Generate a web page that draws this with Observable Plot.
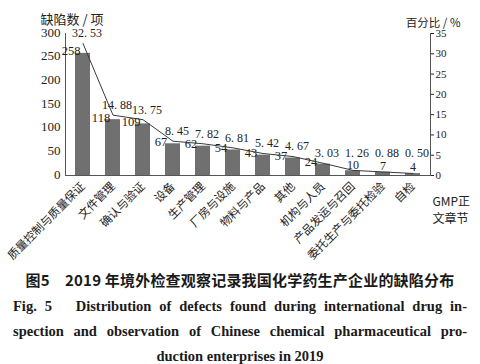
<!DOCTYPE html>
<html><head><meta charset="utf-8">
<script src="https://cdn.jsdelivr.net/npm/d3@7"></script>
<script src="https://cdn.jsdelivr.net/npm/@observablehq/plot@0.6"></script>
<style>
body{margin:0;background:#fff;width:480px;overflow:hidden}
#cap{font-family:"Noto Sans CJK SC",sans-serif;color:#1a1a1a}
.zh{font-weight:700;font-size:15px;text-align:center;margin-top:7px;letter-spacing:0.2px}
.en{font-family:"Liberation Serif",serif;font-weight:700;font-size:14.5px;padding:0 13px 0 13px;line-height:25px}
.j{text-align:justify;text-align-last:justify}
.c{text-align:center}
</style></head><body>
<div id="chart"></div>
<div id="cap">
<div class="zh">图5　2019 年境外检查观察记录我国化学药生产企业的缺陷分布</div>
<div class="en" style="margin-top:4px">
<div class="j">Fig. 5 &nbsp; Distribution of defects found during international drug in-</div>
<div class="j">spection and observation of Chinese chemical pharmaceutical pro-</div>
<div class="c">duction enterprises in 2019</div>
</div>
</div>
<script>
const categories = ["质量控制与质量保证","文件管理","确认与验证","设备","生产管理","厂房与设施","物料与产品","其他","机构与人员","产品发运与召回","委托生产与委托检验","自检"];
const counts = [258,118,109,67,62,54,43,37,24,10,7,4];
const percents = [32.53,14.88,13.75,8.45,7.82,6.81,5.42,4.67,3.03,1.26,0.88,0.50];
const countTicks = [0,50,100,150,200,250,300];
const pctTicks = [0,5,10,15,20,25,30,35];
const yTitle = "缺陷数 / 项";
const y2Title = "百分比 / %";
const xTitle = ["GMP正","文章节"];

const k = 300/35;
const data = categories.map((c,i)=>({cat:c,count:counts[i],pct:percents[i],i}));
const serif = "Liberation Serif, serif";

const chart = Plot.plot({
  width:480, height:262,
  marginLeft:65, marginRight:50, marginTop:33, marginBottom:87,
  style:{fontFamily:serif, fontSize:"12px", color:"#222", background:"#fff"},
  x:{domain:categories, paddingInner:0.5, paddingOuter:0.25, label:null},
  y:{domain:[0,300], label:null},
  marks:[
    Plot.barY(data,{x:"cat",y:"count",fill:"#707070"}),
    Plot.line(data,{x:"cat",y:d=>d.pct*k,stroke:"#3a3a3a",strokeWidth:1}),
    Plot.axisY({ticks:countTicks,tickSize:0,tickPadding:5,fontSize:13,label:null,dy:-1}),
    Plot.axisY({anchor:"right",ticks:pctTicks.map(v=>v*k),tickFormat:v=>String(Math.round(v/k)),tickSize:3,tickPadding:2,fontSize:11,label:null}),
    Plot.axisX({tickRotate:-45,tickSize:0,tickPadding:9,fontSize:11.5,fontFamily:"Noto Sans CJK SC",label:null}),
    Plot.frame({anchor:"left",stroke:"#555"}),
    Plot.frame({anchor:"right",stroke:"#555"}),
    Plot.frame({anchor:"bottom",stroke:"#555"}),
    Plot.text(data.filter(d=>d.i<9),{x:"cat",y:"count",text:d=>String(d.count),dx:-12,dy:-2,fontSize:12.5,fill:"#222"}),
    Plot.text(data.filter(d=>d.i>=9),{x:"cat",y:"count",text:d=>String(d.count),dy:-6,fontSize:12,fill:"#222"}),
    Plot.text(data,{x:"cat",y:d=>Math.max(d.pct,3)*k,text:d=>d.pct.toFixed(2).replace(".",". "),dx:4,dy:-10,fontSize:12,fill:"#222"}),
    Plot.text([yTitle],{frameAnchor:"top-left",dx:-25,dy:-19,text:d=>d,fontSize:13,fontFamily:"Noto Sans CJK SC",textAnchor:"start",fill:"#222"}),
    Plot.text([y2Title],{frameAnchor:"top-right",dx:30,dy:-15,text:d=>d,fontSize:11.5,fontFamily:"Noto Sans CJK SC",textAnchor:"end",fill:"#222"}),
    Plot.text([xTitle.join("\n")],{frameAnchor:"bottom-right",dx:2,dy:18,text:d=>d,fontSize:12,fontFamily:"Noto Sans CJK SC",textAnchor:"start",lineAnchor:"top",lineHeight:1.45,fill:"#222"})
  ]
});
document.getElementById("chart").appendChild(chart);
</script>
</body></html>
